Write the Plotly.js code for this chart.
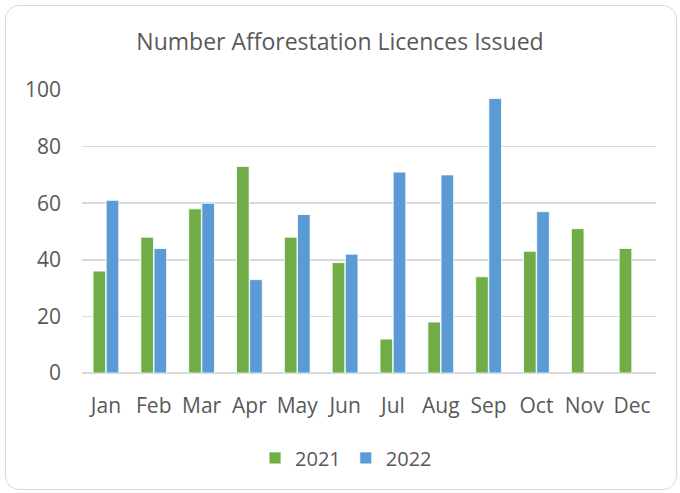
<!DOCTYPE html>
<html>
<head>
<meta charset="utf-8">
<script src="https://cdn.plot.ly/plotly-3.0.1.min.js"></script>
<style>
  html, body { margin: 0; padding: 0; background: #ffffff; }
  #wrap { position: relative; width: 680px; height: 493px; }
  #chart { position: absolute; left: 0; top: 0; width: 680px; height: 493px; }
  #frame { position: absolute; left: 5px; top: 5px; width: 670px; height: 483px;
           border: 1.5px solid #d9d9d9; border-radius: 14px; pointer-events: none; }
</style>
</head>
<body>
<div id="wrap">
  <div id="chart"></div>
  <div id="frame"></div>
</div>
<script>
const months = ["Jan","Feb","Mar","Apr","May","Jun","Jul","Aug","Sep","Oct","Nov","Dec"];
const values2021 = [36, 48, 58, 73, 48, 39, 12, 18, 34, 43, 51, 44];
const values2022 = [61, 44, 60, 33, 56, 42, 71, 70, 97, 57, null, null];
const yTicks = [0, 20, 40, 60, 80, 100];

const fontFam = "Open Sans, Noto Sans, sans-serif";
const textColor = "#595959";

const traces = [
  { type: "bar", name: "2021", x: months, y: values2021,
    marker: { color: "#70ad47", line: { color: "#ffffff", width: 0.8 } } },
  { type: "bar", name: "2022", x: months, y: values2022,
    marker: { color: "#5b9bd5", line: { color: "#ffffff", width: 0.8 } } }
];

const layout = {
  width: 680, height: 493,
  paper_bgcolor: "rgba(0,0,0,0)", plot_bgcolor: "#ffffff",
  margin: { l: 82, r: 24, t: 90, b: 120 },
  barmode: "group", bargap: 0.45, bargroupgap: 0.04,
  title: { text: "Number Afforestation Licences Issued", x: 0.5, xanchor: "center",
           y: 0.915, yanchor: "middle",
           font: { family: fontFam, size: 23, color: textColor } },
  font: { family: fontFam, size: 21, color: textColor },
  xaxis: { type: "category", showgrid: false, zeroline: false, showline: false,
           ticks: "", tickfont: { size: 21, color: textColor }, ticklabelstandoff: 18 },
  yaxis: { range: [0, 100], tickvals: yTicks, ticktext: yTicks.map(String),
           showgrid: true, gridcolor: "#d9d9d9", gridwidth: 1.5,
           zeroline: true, zerolinecolor: "#d9d9d9", zerolinewidth: 1.5,
           showline: false, ticks: "", ticklabelstandoff: 20,
           tickfont: { size: 21, color: textColor } },
  showlegend: true,
  legend: { orientation: "h", x: 0.46, xanchor: "center", y: -0.30, yanchor: "middle",
            font: { size: 20, color: textColor }, itemwidth: 30, tracegroupgap: 0 }
};

Plotly.newPlot("chart", traces, layout, { displayModeBar: false, staticPlot: true });
</script>
</body>
</html>
